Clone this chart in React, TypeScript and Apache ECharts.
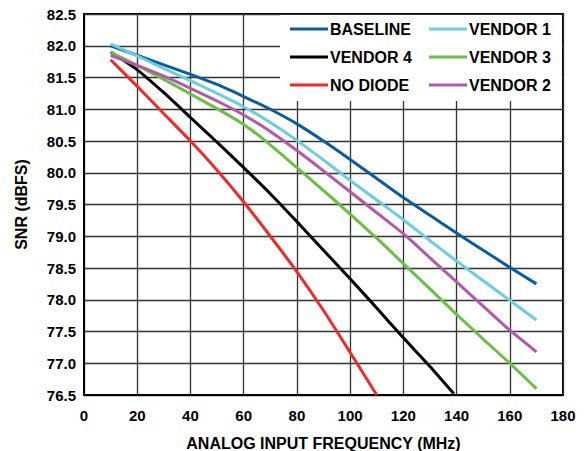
import React, { useEffect, useRef } from "react";
import * as echarts from "echarts";

const xTicks = [0, 20, 40, 60, 80, 100, 120, 140, 160, 180];
const seriesNames = ["BASELINE", "VENDOR 1", "VENDOR 4", "VENDOR 3", "NO DIODE", "VENDOR 2"];
const seriesColors = ["#0b5c9e", "#6ccde0", "#000000", "#6cbf45", "#ee2b2b", "#b558a9"];

const freqFull = [10, 20, 30, 40, 50, 60, 70, 80, 90, 100, 110, 120, 130, 140, 150, 160, 170];
const baseline = [82.0, 81.85, 81.7, 81.55, 81.39, 81.2, 81.0, 80.77, 80.5, 80.21, 79.91, 79.61, 79.33, 79.05, 78.78, 78.51, 78.25];
const vendor1 = [82.03, 81.84, 81.64, 81.45, 81.25, 81.04, 80.79, 80.51, 80.2, 79.88, 79.57, 79.26, 78.93, 78.61, 78.3, 77.99, 77.68];
const vendor2 = [81.85, 81.69, 81.52, 81.33, 81.13, 80.91, 80.65, 80.35, 80.03, 79.7, 79.37, 79.04, 78.66, 78.28, 77.9, 77.52, 77.18];
const vendor3 = [81.9, 81.69, 81.47, 81.24, 81.01, 80.76, 80.44, 80.08, 79.72, 79.35, 78.97, 78.57, 78.17, 77.77, 77.38, 77.0, 76.6];

const freqV4 = [10, 20, 30, 40, 50, 60, 70, 80, 90, 100, 110, 120, 130, 139];
const vendor4 = [81.9, 81.62, 81.26, 80.87, 80.48, 80.08, 79.67, 79.23, 78.78, 78.33, 77.87, 77.4, 76.95, 76.52];

const freqNoDiode = [10, 20, 30, 40, 50, 60, 70, 80, 90, 100, 110];
const noDiode = [81.78, 81.36, 80.93, 80.5, 80.04, 79.54, 79.0, 78.44, 77.83, 77.17, 76.5];

const pair = (xs: number[], ys: number[]) => xs.map((x, i) => [x, ys[i]]);

const FONT = "'Liberation Sans', Arial, sans-serif";

export default function App() {
  const ref = useRef<HTMLDivElement>(null);
  useEffect(() => {
    document.body.style.margin = "0";
    if (!ref.current) return;
    const chart = echarts.init(ref.current, null, { renderer: "svg" });
    const dataSets = [
      pair(freqFull, baseline),
      pair(freqFull, vendor1),
      pair(freqV4, vendor4),
      pair(freqFull, vendor3),
      pair(freqNoDiode, noDiode),
      pair(freqFull, vendor2),
    ];
    const legendCommon = {
      orient: "vertical" as const,
      top: 21,
      padding: 0,
      itemWidth: 38,
      itemHeight: 14,
      itemGap: 12,
      z: 20,
      icon: "path://M0,6 L38,6 L38,9 L0,9 Z",
      textStyle: { fontFamily: FONT, fontWeight: "bold", fontSize: 16, color: "#000", padding: [0, 0, 0, -3] },
      selectedMode: false,
    };
    chart.setOption({
      animation: false,
      backgroundColor: "#fff",
      grid: {
        left: 84,
        right: 22,
        top: 14,
        bottom: 56,
        outerBoundsMode: "none",
        containLabel: false,
        show: true,
        borderColor: "#000",
        borderWidth: 2,
        backgroundColor: "transparent",
      },
      legend: [
        { ...legendCommon, left: 290, data: [seriesNames[0], seriesNames[2], seriesNames[4]] },
        { ...legendCommon, left: 429, data: [seriesNames[1], seriesNames[3], seriesNames[5]] },
      ],
      graphic: [
        {
          type: "rect",
          z: 10,
          shape: { x: 280, y: 15, width: 282, height: 86 },
          style: { fill: "#fff" },
          silent: true,
        },
      ],
      xAxis: {
        type: "value",
        min: 0,
        max: 180,
        interval: 20,
        name: "ANALOG INPUT FREQUENCY (MHz)",
        nameLocation: "middle",
        nameGap: 40,
        nameTextStyle: { fontFamily: FONT, fontWeight: "bold", fontSize: 16, color: "#000" },
        axisLine: { show: true, lineStyle: { color: "#000", width: 2 } },
        axisTick: { show: false },
        axisLabel: {
          fontFamily: FONT,
          fontWeight: "bold",
          fontSize: 15,
          color: "#000",
          margin: 13,
          customValues: xTicks,
        },
        splitLine: { show: true, lineStyle: { color: "#333", width: 1.3 } },
      },
      yAxis: {
        type: "value",
        min: 76.5,
        max: 82.5,
        interval: 0.5,
        name: "SNR (dBFS)",
        nameLocation: "middle",
        nameGap: 55,
        nameTextStyle: { fontFamily: FONT, fontWeight: "bold", fontSize: 16, color: "#000" },
        axisLine: { show: true, lineStyle: { color: "#000", width: 2 } },
        axisTick: { show: false },
        axisLabel: {
          fontFamily: FONT,
          fontWeight: "bold",
          fontSize: 15,
          color: "#000",
          margin: 8,
          formatter: (v: number) => v.toFixed(1),
        },
        splitLine: { show: true, lineStyle: { color: "#333", width: 1.3 } },
      },
      series: seriesNames.map((name, i) => ({
        name,
        type: "line",
        data: dataSets[i],
        smooth: 0.2,
        showSymbol: false,
        symbol: "none",
        z: 3,
        lineStyle: { color: seriesColors[i], width: 3 },
        itemStyle: { color: seriesColors[i] },
      })),
    });
    return () => chart.dispose();
  }, []);
  return <div ref={ref} style={{ width: 585, height: 451 }} />;
}
